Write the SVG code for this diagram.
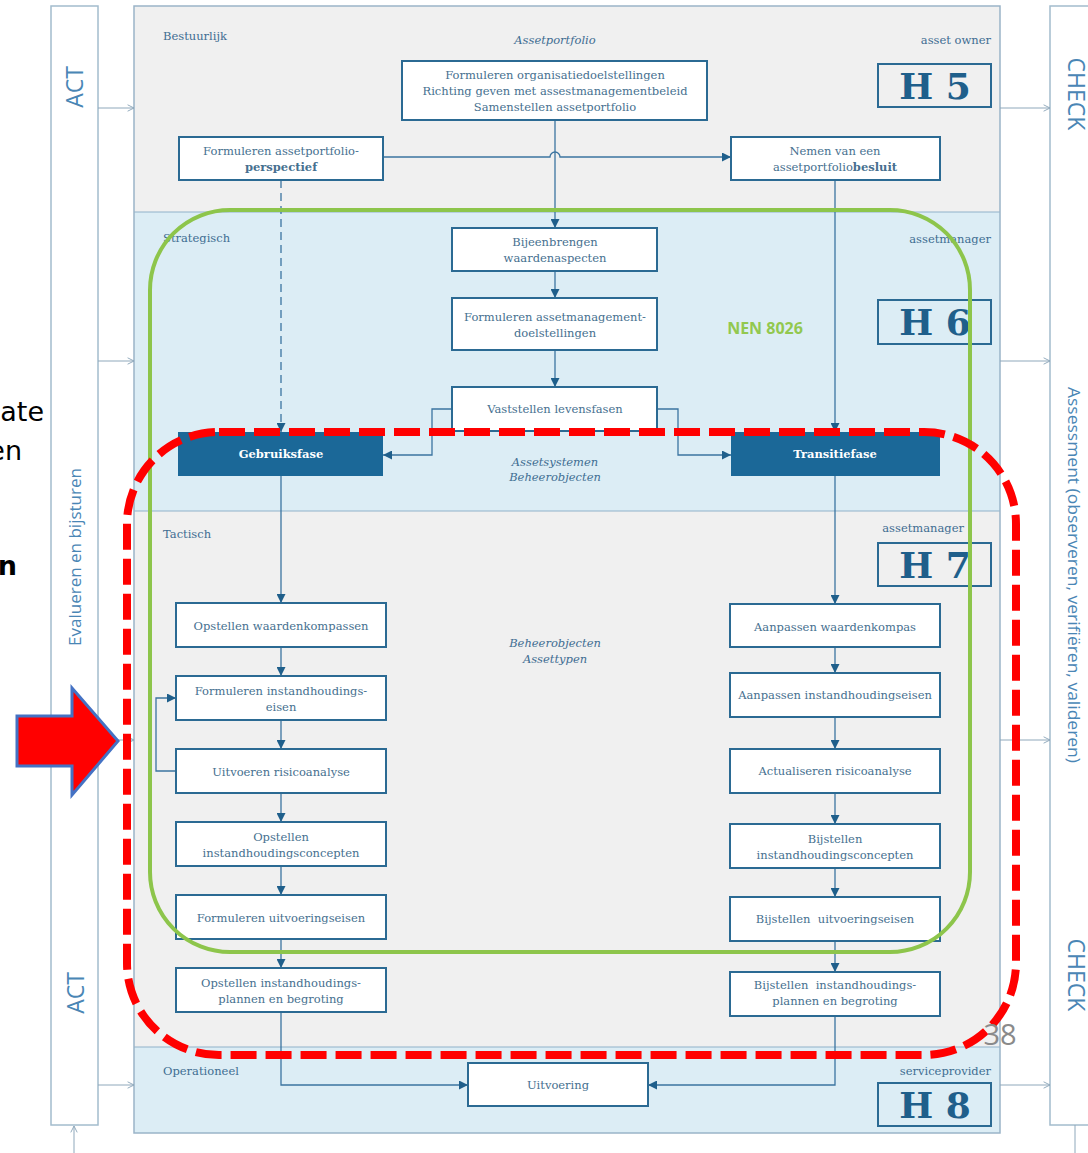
<svg xmlns="http://www.w3.org/2000/svg" width="1088" height="1153" viewBox="0 0 1088 1153">
<defs>
<style>
.bg{fill:#ffffff}
.band-g{fill:#f0f0f0}
.band-b{fill:#dcedf5}
.frame{fill:none;stroke:#9ab4c8;stroke-width:1.5}
.sep{stroke:#8fb1c9;stroke-width:1.2}
.box{fill:#ffffff;stroke:#2b6a93;stroke-width:2}
.fase{fill:#1b6898}
.t{font-family:"DejaVu Serif",serif;font-size:11.5px;fill:#46708f;text-anchor:middle}
.tw{font-family:"DejaVu Serif",serif;font-size:11.5px;font-weight:bold;fill:#ffffff;text-anchor:middle}
.b{font-weight:bold}
.lane{font-family:"DejaVu Serif",serif;font-size:11.5px;fill:#3f6d92}
.r{text-anchor:end}
.it{font-style:italic;text-anchor:middle}
.hbox{fill:none;stroke:#2b6a93;stroke-width:2}
.h{font-family:"DejaVu Serif",serif;font-size:36px;font-weight:bold;fill:#1f5f8b;text-anchor:middle}
.side{fill:#ffffff;stroke:#a3bccd;stroke-width:1.5}
.sidet{font-family:"Open Sans",sans-serif;fill:#4a86b5;text-anchor:middle}
.c{fill:none;stroke:#3b74a0;stroke-width:1.3}
.thin{fill:none;stroke:#8fa8bb;stroke-width:1}
.slide{font-family:"DejaVu Sans",sans-serif;font-size:27px;fill:#000000;text-anchor:end}
</style>
<marker id="ah" viewBox="0 0 10 10" refX="10" refY="5" markerWidth="9" markerHeight="9" orient="auto" markerUnits="userSpaceOnUse">
<path d="M0,0 L10,5 L0,10 z" fill="#1f5f8b"/>
</marker>
<marker id="oa" viewBox="0 0 10 10" refX="10" refY="5" markerWidth="8" markerHeight="8" orient="auto" markerUnits="userSpaceOnUse">
<path d="M2,1 L10,5 L2,9" fill="none" stroke="#8fa8bb" stroke-width="1.2"/>
</marker>
</defs>

<rect class="bg" x="0" y="0" width="1088" height="1153"/>

<!-- slide text running in from the left edge -->
<g id="slide-text">
<text class="slide" x="44" y="421">ate</text>
<text class="slide" x="22" y="460">en</text>
<text class="slide" x="17" y="575" font-weight="bold">n</text>
</g>

<!-- ACT column -->
<g id="act-column">
<rect class="side" x="51" y="6" width="47" height="1119"/>
<text class="sidet" font-size="23" transform="translate(83,87) rotate(-90)">ACT</text>
<text class="sidet" font-size="17" transform="translate(81,557) rotate(-90)">Evalueren en bijsturen</text>
<text class="sidet" font-size="23" transform="translate(84,993) rotate(-90)">ACT</text>
</g>

<!-- CHECK column -->
<g id="check-column">
<rect class="side" x="1050" y="6" width="50" height="1119"/>
<text class="sidet" font-size="23" transform="translate(1068,94) rotate(90)">CHECK</text>
<text class="sidet" font-size="15.5" textLength="376" lengthAdjust="spacingAndGlyphs" transform="translate(1068,575) rotate(90)">Assessment (observeren, verifiëren, valideren)</text>
<text class="sidet" font-size="23" transform="translate(1068,975) rotate(90)">CHECK</text>
</g>

<!-- swimlanes -->
<g id="lanes">
<rect class="band-g" x="134" y="6" width="866" height="206"/>
<rect class="band-b" x="134" y="212" width="866" height="299"/>
<rect class="band-g" x="134" y="511" width="866" height="536"/>
<rect class="band-b" x="134" y="1047" width="866" height="86"/>
<line class="sep" x1="134" y1="212" x2="1000" y2="212"/>
<line class="sep" x1="134" y1="511" x2="1000" y2="511"/>
<line class="sep" x1="134" y1="1047" x2="1000" y2="1047"/>
<rect class="frame" x="134" y="6" width="866" height="1127"/>
<text class="lane" x="163" y="40">Bestuurlijk</text>
<text class="lane it" x="555" y="44">Assetportfolio</text>
<text class="lane r" x="991" y="44">asset owner</text>
<text class="lane" x="163" y="242">Strategisch</text>
<text class="lane r" x="991" y="243">assetmanager</text>
<text class="lane it" x="555" y="466">Assetsystemen</text>
<text class="lane it" x="555" y="481">Beheerobjecten</text>
<text class="lane" x="163" y="538">Tactisch</text>
<text class="lane r" x="964" y="532">assetmanager</text>
<text class="lane it" x="555" y="647">Beheerobjecten</text>
<text class="lane it" x="555" y="663">Assettypen</text>
<text class="lane" x="163" y="1075">Operationeel</text>
<text class="lane r" x="991" y="1075">serviceprovider</text>
</g>

<!-- chapter markers -->
<g id="h5"><rect class="hbox" x="878" y="64" width="113" height="43"/><text class="h" x="935" y="99">H 5</text></g>
<g id="h6"><rect class="hbox" x="878" y="300" width="113" height="44"/><text class="h" x="935" y="335">H 6</text></g>
<g id="h7"><rect class="hbox" x="878" y="543" width="113" height="43"/><text class="h" x="935" y="578">H 7</text></g>
<g id="h8"><rect class="hbox" x="878" y="1083" width="113" height="43"/><text class="h" x="935" y="1118">H 8</text></g>

<!-- connectors -->
<g id="connectors">
<line class="thin" x1="98" y1="108" x2="134" y2="108" marker-end="url(#oa)"/>
<line class="thin" x1="98" y1="361" x2="134" y2="361" marker-end="url(#oa)"/>
<line class="thin" x1="98" y1="740" x2="134" y2="740" marker-end="url(#oa)"/>
<line class="thin" x1="98" y1="1085" x2="134" y2="1085" marker-end="url(#oa)"/>
<line class="thin" x1="74" y1="1153" x2="74" y2="1126" marker-end="url(#oa)"/>
<line class="thin" x1="1000" y1="108" x2="1050" y2="108" marker-end="url(#oa)"/>
<line class="thin" x1="1000" y1="361" x2="1050" y2="361" marker-end="url(#oa)"/>
<line class="thin" x1="1000" y1="740" x2="1050" y2="740" marker-end="url(#oa)"/>
<line class="thin" x1="1000" y1="1085" x2="1050" y2="1085" marker-end="url(#oa)"/>
<line class="thin" x1="1075" y1="1125" x2="1075" y2="1153"/>

<line class="c" x1="555" y1="120" x2="555" y2="228" marker-end="url(#ah)"/>
<path class="c" d="M383,157 H550 a5,5 0 0 1 10,0 H731" marker-end="url(#ah)"/>
<line class="c" x1="281" y1="180" x2="281" y2="432" stroke-dasharray="8 5" marker-end="url(#ah)"/>
<line class="c" x1="835" y1="180" x2="835" y2="432" marker-end="url(#ah)"/>
<line class="c" x1="555" y1="271" x2="555" y2="298" marker-end="url(#ah)"/>
<line class="c" x1="555" y1="350" x2="555" y2="387" marker-end="url(#ah)"/>
<path class="c" d="M452,409 H432 V455 H383" marker-end="url(#ah)"/>
<path class="c" d="M657,409 H678 V455 H731" marker-end="url(#ah)"/>

<line class="c" x1="281" y1="476" x2="281" y2="603" marker-end="url(#ah)"/>
<line class="c" x1="281" y1="647" x2="281" y2="676" marker-end="url(#ah)"/>
<line class="c" x1="281" y1="720" x2="281" y2="749" marker-end="url(#ah)"/>
<line class="c" x1="281" y1="793" x2="281" y2="822" marker-end="url(#ah)"/>
<line class="c" x1="281" y1="866" x2="281" y2="895" marker-end="url(#ah)"/>
<line class="c" x1="281" y1="939" x2="281" y2="968" marker-end="url(#ah)"/>
<path class="c" d="M176,771 H156 V698 H176" marker-end="url(#ah)"/>

<line class="c" x1="835" y1="476" x2="835" y2="604" marker-end="url(#ah)"/>
<line class="c" x1="835" y1="647" x2="835" y2="673" marker-end="url(#ah)"/>
<line class="c" x1="835" y1="717" x2="835" y2="749" marker-end="url(#ah)"/>
<line class="c" x1="835" y1="793" x2="835" y2="824" marker-end="url(#ah)"/>
<line class="c" x1="835" y1="868" x2="835" y2="897" marker-end="url(#ah)"/>
<line class="c" x1="835" y1="941" x2="835" y2="972" marker-end="url(#ah)"/>

<path class="c" d="M281,1012 V1085 H468" marker-end="url(#ah)"/>
<path class="c" d="M835,1016 V1085 H648" marker-end="url(#ah)"/>
</g>

<!-- governance level -->
<g id="n-portfolio">
<rect class="box" x="402" y="61" width="305" height="59"/>
<text class="t" x="555" y="79">Formuleren organisatiedoelstellingen</text>
<text class="t" x="555" y="95">Richting geven met assestmanagementbeleid</text>
<text class="t" x="555" y="111">Samenstellen assetportfolio</text>
</g>
<g id="n-perspectief">
<rect class="box" x="179" y="137" width="204" height="43"/>
<text class="t" x="281" y="155">Formuleren assetportfolio-</text>
<text class="t b" x="281" y="171">perspectief</text>
</g>
<g id="n-besluit">
<rect class="box" x="731" y="137" width="209" height="43"/>
<text class="t" x="835" y="155">Nemen van een</text>
<text class="t" x="835" y="171">assetportfolio<tspan class="b">besluit</tspan></text>
</g>

<!-- strategic level -->
<g id="n-waardenaspecten">
<rect class="box" x="452" y="228" width="205" height="43"/>
<text class="t" x="555" y="246">Bijeenbrengen</text>
<text class="t" x="555" y="262">waardenaspecten</text>
</g>
<g id="n-amdoelen">
<rect class="box" x="452" y="298" width="205" height="52"/>
<text class="t" x="555" y="321">Formuleren assetmanagement-</text>
<text class="t" x="555" y="337">doelstellingen</text>
</g>
<g id="n-levensfasen">
<rect class="box" x="452" y="387" width="205" height="44"/>
<text class="t" x="555" y="413">Vaststellen levensfasen</text>
</g>
<g id="n-gebruiksfase">
<rect class="fase" x="178" y="432" width="205" height="44"/>
<text class="tw" x="281" y="458">Gebruiksfase</text>
</g>
<g id="n-transitiefase">
<rect class="fase" x="731" y="432" width="209" height="44"/>
<text class="tw" x="835" y="458">Transitiefase</text>
</g>

<!-- tactical level, use phase -->
<g id="n-waardenkompassen">
<rect class="box" x="176" y="603" width="210" height="44"/>
<text class="t" x="281" y="630">Opstellen waardenkompassen</text>
</g>
<g id="n-eisen">
<rect class="box" x="176" y="676" width="210" height="44"/>
<text class="t" x="281" y="695">Formuleren instandhoudings-</text>
<text class="t" x="281" y="711">eisen</text>
</g>
<g id="n-risico">
<rect class="box" x="176" y="749" width="210" height="44"/>
<text class="t" x="281" y="776">Uitvoeren risicoanalyse</text>
</g>
<g id="n-concepten">
<rect class="box" x="176" y="822" width="210" height="44"/>
<text class="t" x="281" y="841">Opstellen</text>
<text class="t" x="281" y="857">instandhoudingsconcepten</text>
</g>
<g id="n-uitvoeringseisen">
<rect class="box" x="176" y="895" width="210" height="44"/>
<text class="t" x="281" y="922">Formuleren uitvoeringseisen</text>
</g>
<g id="n-plannen">
<rect class="box" x="176" y="968" width="210" height="44"/>
<text class="t" x="281" y="987">Opstellen instandhoudings-</text>
<text class="t" x="281" y="1003">plannen en begroting</text>
</g>

<!-- tactical level, transition phase -->
<g id="n-aanp-kompas">
<rect class="box" x="730" y="604" width="210" height="43"/>
<text class="t" x="835" y="631">Aanpassen waardenkompas</text>
</g>
<g id="n-aanp-eisen">
<rect class="box" x="730" y="673" width="210" height="44"/>
<text class="t" x="835" y="699">Aanpassen instandhoudingseisen</text>
</g>
<g id="n-act-risico">
<rect class="box" x="730" y="749" width="210" height="44"/>
<text class="t" x="835" y="775">Actualiseren risicoanalyse</text>
</g>
<g id="n-bij-concepten">
<rect class="box" x="730" y="824" width="210" height="44"/>
<text class="t" x="835" y="843">Bijstellen</text>
<text class="t" x="835" y="859">instandhoudingsconcepten</text>
</g>
<g id="n-bij-uitvoeringseisen">
<rect class="box" x="730" y="897" width="210" height="44"/>
<text class="t" x="835" y="923" xml:space="preserve">Bijstellen  uitvoeringseisen</text>
</g>
<g id="n-bij-plannen">
<rect class="box" x="730" y="972" width="210" height="44"/>
<text class="t" x="835" y="989" xml:space="preserve">Bijstellen  instandhoudings-</text>
<text class="t" x="835" y="1005">plannen en begroting</text>
</g>

<!-- operational level -->
<g id="n-uitvoering">
<rect class="box" x="468" y="1063" width="180" height="43"/>
<text class="t" x="558" y="1089">Uitvoering</text>
</g>

<!-- NEN 8026 scope -->
<g id="nen8026">
<rect x="150" y="210" width="820" height="742" rx="80" ry="80" fill="none" stroke="#8dc54b" stroke-width="4"/>
<text x="765" y="334" font-family="Open Sans, sans-serif" font-size="16" font-weight="bold" fill="#92c84f" text-anchor="middle">NEN 8026</text>
</g>

<!-- highlighted scope -->
<g id="highlight">
<rect x="127" y="432" width="889" height="623" rx="92" ry="92" fill="none" stroke="#ff0000" stroke-width="8" stroke-dasharray="26 9"/>
</g>

<!-- pointer arrow -->
<g id="pointer">
<polygon points="17,716 72,716 72,688 118,741 72,795 72,766 17,766" fill="#ff0000" stroke="#4472c4" stroke-width="3" stroke-linejoin="miter"/>
</g>

<text x="1000" y="1045" font-family="Open Sans, sans-serif" font-size="29" fill="#8a8a8a" text-anchor="middle">38</text>
</svg>
